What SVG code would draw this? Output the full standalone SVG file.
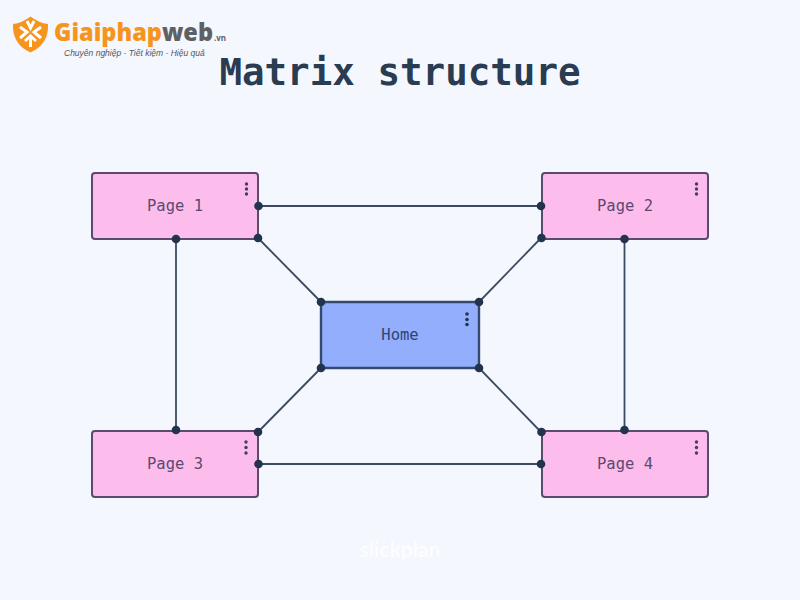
<svg xmlns="http://www.w3.org/2000/svg" width="800" height="600" viewBox="0 0 800 600">
<style>
.page{fill:#fdbdec;stroke:#5a4a6e;stroke-width:2}
.home{fill:#92aefc;stroke:#34496e;stroke-width:2.4}
.lbl{font-family:"DejaVu Sans Mono","Liberation Mono",monospace;font-size:15.500px;text-anchor:middle}
.lp{fill:#5b4a70}
.lh{fill:#2f4374}
.c{stroke:#3b4a60;stroke-width:1.8;fill:none}
.d{fill:#22334d}
.k{fill:#3d3f63}
</style>
<rect width="800" height="600" fill="#f4f7fe"/>
<g id="logo">
<path d="M13 24Q22 23 30.500 16.500Q39 23 48 24Q49 44 30.500 52.500Q12 44 13 24Z" fill="#f7941d"/>
<path d="M20 27L27 32L20 38M41 27L34 32L41 38M27 21L30.500 28L34 21M30.500 36V47M25 41L30.500 36L36 41" fill="none" stroke="#fff" stroke-width="3"/>
<text x="54" y="41" font-family="'Open Sans','Liberation Sans',sans-serif" font-size="24.500" font-weight="800" fill="#f7941d" textLength="159" lengthAdjust="spacingAndGlyphs">Giaiphap<tspan fill="#5f6064">web</tspan></text>
<text x="214" y="41" font-family="'Open Sans','Liberation Sans',sans-serif" font-size="8" font-weight="700" fill="#5f6064">.vn</text>
<text x="64" y="56" font-family="'Liberation Sans',sans-serif" font-size="8.500" font-style="italic" fill="#55565a">Chuyên nghiệp - Tiết kiệm - Hiệu quả</text>
</g>
<text id="title" x="400" y="85" font-family="'DejaVu Sans Mono','Liberation Mono',monospace" font-size="37.500" font-weight="700" text-anchor="middle" fill="#2a3c52">Matrix structure</text>
<g id="connectors" class="c">
<path d="M258 206H541"/>
<path d="M258 464H541"/>
<path d="M176 239V430"/>
<path d="M624.500 239V431"/>
<path d="M258 238L321 302"/>
<path d="M541 238L479 302"/>
<path d="M258 432L321 368"/>
<path d="M541 432L479 368"/>
</g>
<g id="page1"><rect class="page" x="92" y="173" width="166" height="66" rx="3"/><text class="lbl lp" x="175" y="211">Page 1</text><circle class="k" cx="246.500" cy="184" r="1.700"/><circle class="k" cx="246.500" cy="189" r="1.700"/><circle class="k" cx="246.500" cy="194" r="1.700"/></g>
<g id="page2"><rect class="page" x="542" y="173" width="166" height="66" rx="3"/><text class="lbl lp" x="625" y="211">Page 2</text><circle class="k" cx="696.500" cy="184" r="1.700"/><circle class="k" cx="696.500" cy="189" r="1.700"/><circle class="k" cx="696.500" cy="194" r="1.700"/></g>
<g id="page3"><rect class="page" x="92" y="431" width="166" height="66" rx="3"/><text class="lbl lp" x="175" y="469">Page 3</text><circle class="k" cx="246" cy="442" r="1.700"/><circle class="k" cx="246" cy="447.500" r="1.700"/><circle class="k" cx="246" cy="453" r="1.700"/></g>
<g id="page4"><rect class="page" x="542" y="431" width="166" height="66" rx="3"/><text class="lbl lp" x="625" y="469">Page 4</text><circle class="k" cx="696.500" cy="442" r="1.700"/><circle class="k" cx="696.500" cy="447.500" r="1.700"/><circle class="k" cx="696.500" cy="453" r="1.700"/></g>
<g id="home"><rect class="home" x="321" y="302" width="158" height="66" rx="1.500"/><text class="lbl lh" x="400" y="340">Home</text><circle class="d" cx="467" cy="314" r="1.800"/><circle class="d" cx="467" cy="319.500" r="1.800"/><circle class="d" cx="467" cy="324.500" r="1.800"/></g>
<g id="dots" class="d">
<circle cx="258.500" cy="206" r="4.300"/><circle cx="541" cy="206" r="4.300"/>
<circle cx="258.500" cy="464" r="4.300"/><circle cx="541" cy="464" r="4.300"/>
<circle cx="176" cy="239" r="4.300"/><circle cx="176" cy="430" r="4.300"/>
<circle cx="624.500" cy="239" r="4.300"/><circle cx="624.500" cy="430" r="4.300"/>
<circle cx="258" cy="238" r="4.300"/><circle cx="321" cy="302" r="4.300"/>
<circle cx="541.500" cy="238" r="4.300"/><circle cx="479" cy="302" r="4.300"/>
<circle cx="258" cy="432" r="4.300"/><circle cx="321" cy="368" r="4.300"/>
<circle cx="541.500" cy="432" r="4.300"/><circle cx="479" cy="368" r="4.300"/>
</g>
<text id="watermark" x="400" y="557" font-family="'Lato','Liberation Sans',sans-serif" font-size="21" font-weight="700" text-anchor="middle" fill="#ffffff" opacity="0.75">slickplan</text>
</svg>
